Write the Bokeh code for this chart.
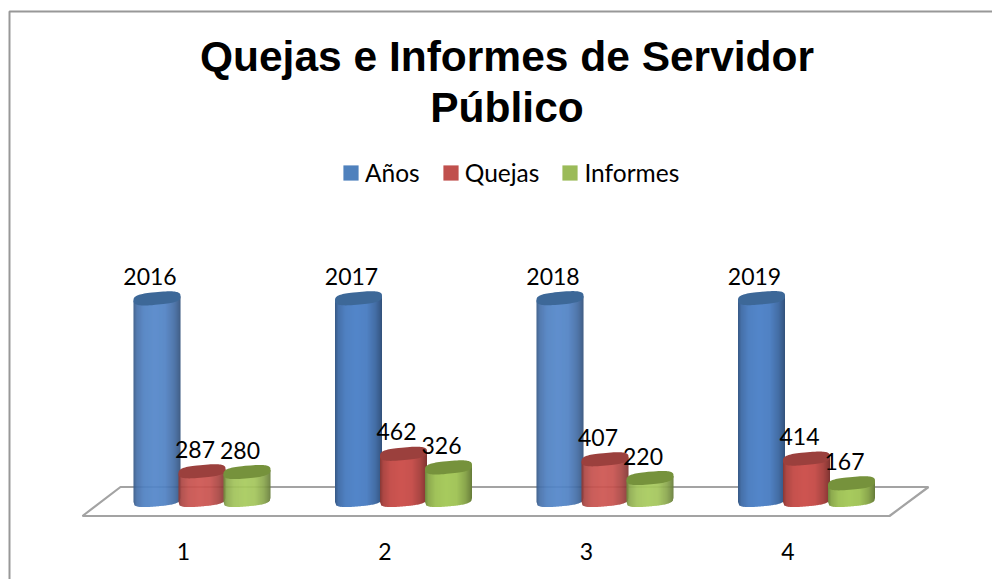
import numpy as np
from bokeh.embed import file_html
from bokeh.models import ColumnDataSource, FixedTicker, Legend, LegendItem, LinearAxis
from bokeh.plotting import figure
from bokeh.resources import INLINE
from bokeh.core.properties import value

groups = [1, 2, 3, 4]
anios = [2016, 2017, 2018, 2019]
quejas = [287, 462, 407, 414]
informes = [280, 326, 220, 167]
series_names = ["Años", "Quejas", "Informes"]
title_lines = ["Quejas e Informes de Servidor", "Público"]

W, H = 992, 579
PAGE = 0
SPACING = 201.5          # px between groups
LABEL_SHIFT = 18.5       # category labels sit left of the group centre (perspective)
ZERO_Y = 499.5           # page px of the value 0
PX_PER_UNIT = 0.1

x0 = (PAGE + LABEL_SHIFT) / SPACING
x1 = (PAGE + W + LABEL_SHIFT) / SPACING
y_bottom = (ZERO_Y - (PAGE + H)) / PX_PER_UNIT
y_top = (ZERO_Y - PAGE) / PX_PER_UNIT


def xp(px):
    return (np.asarray(px, dtype=float) + LABEL_SHIFT) / SPACING


def yp(py):
    return (ZERO_Y - np.asarray(py, dtype=float)) / PX_PER_UNIT


p = figure(width=W, height=H, x_range=(x0, x1), y_range=(y_bottom, y_top),
           x_axis_location=None, y_axis_location=None, toolbar_location=None,
           output_backend="svg", min_border=0, outline_line_color=None)
p.grid.visible = False

# chart border (open at right and bottom, cut by the page)
BORDER = "#989898"
p.line(xp([9, 9, 992]), yp([579, 11, 11]), line_color=BORDER, line_width=2)

# floor of the 3-D chart
p.patch(xp([82, 120, 928, 889]), yp([515.5, 486.5, 486.5, 515.5]),
        fill_color="white", line_color="#a3a3a3", line_width=2.2)

A = 23.5       # cylinder half width px
B = 6.3        # ellipse half height px
SLOPE = 0.09   # ellipse tilt
SHADE_T = [-1.0, -0.86, -0.55, -0.1, 0.35, 0.72, 0.92, 1.0]
SHADE_K = [0.66, 0.84, 0.96, 1.0, 0.97, 0.82, 0.68, 0.6]
BASES = [(83, 134, 202), (206, 85, 81), (168, 203, 94)]
TOPS = ["#3d6898", "#9b403d", "#76923c"]
OFFSETS = [-45, 0, 45]
LEGEND_COLORS = ["#4f81bd", "#c0504d", "#9bbb59"]


def hexcolor(rgb, k):
    return "#%02x%02x%02x" % tuple(int(min(255, c * k)) for c in rgb)


def cylinder(group, val, s):
    cx = SPACING * group + OFFSETS[s]
    dxs = np.arange(-A, A, 1.0)
    xs, ys, cols = [], [], []
    for d in dxs:
        d2 = min(d + 1.35, A)
        dm = [d, d2]
        lows = [-B * max(0.0, 1 - abs(q / A) ** 3) ** (1 / 3) + SLOPE * q for q in dm]
        highs = [val * PX_PER_UNIT + SLOPE * q for q in dm]
        xs.append(list(xp([cx + d, cx + d2, cx + d2, cx + d])))
        ys.append([lows[0] / PX_PER_UNIT, lows[1] / PX_PER_UNIT,
                   highs[1] / PX_PER_UNIT, highs[0] / PX_PER_UNIT])
        k = np.interp((d + 0.5) / A, SHADE_T, SHADE_K)
        cols.append(hexcolor(BASES[s], k))
    p.patches(xs, ys, fill_color=cols, line_color=None)
    th = np.linspace(0, 2 * np.pi, 80)
    c, sn = np.cos(th), np.sin(th)
    ex = A * np.sign(c) * np.abs(c) ** (2 / 3)
    ey = B * np.sign(sn) * np.abs(sn) ** (2 / 3) + SLOPE * ex + val * PX_PER_UNIT
    p.patch(list(xp(cx + ex)), list(ey / PX_PER_UNIT), fill_color=TOPS[s], line_color=None)


for i, g in enumerate(groups):
    for s, series in enumerate([anios, quejas, informes]):
        cylinder(g, series[i], s)

# data labels
lx, ly, lt = [], [], []
for s, series in enumerate([anios, quejas, informes]):
    for g, v in zip(groups, series):
        lx.append(float(xp(SPACING * g + OFFSETS[s])))
        ly.append(v)
        lt.append(str(v))
p.text(x="x", y="y", text="t", source=ColumnDataSource(dict(x=lx, y=ly, t=lt)),
       x_offset=-7, y_offset=-22, text_align="center", text_baseline="middle",
       text_font=value("Lato"), text_font_size="23px", text_color="black")

# category axis pinned inside the frame
axis = LinearAxis(fixed_location=float(yp(536)), ticker=FixedTicker(ticks=groups))
axis.axis_line_color = None
axis.major_tick_line_color = None
axis.minor_tick_line_color = None
axis.major_label_standoff = 0
axis.major_label_text_font = "Lato"
axis.major_label_text_font_size = "23px"
axis.major_label_text_color = "black"
p.add_layout(axis, "below")

# title
p.text(x=[float(xp(506.5))] * 2, y=[float(yp(56)), float(yp(107))], text=title_lines,
       text_align="center", text_baseline="middle",
       text_font=value("Liberation Sans"), text_font_style="bold",
       text_font_size="42.5px", text_color="black")

# legend (its swatch quads lie outside the visible range)
items = []
for name, col in zip(series_names, LEGEND_COLORS):
    r = p.quad(left=[-9], right=[-8], top=[-90000], bottom=[-90001], fill_color=col, line_color=None)
    items.append(LegendItem(label=name, renderers=[r]))
leg = Legend(items=items, orientation="horizontal", location=(341, 392),
             background_fill_alpha=0, border_line_color=None,
             glyph_width=19, glyph_height=19, label_standoff=5, spacing=21,
             padding=0, margin=0,
             label_text_font="Lato", label_text_font_size="24.5px", label_text_color="black")
p.add_layout(leg, "center")

open("out.html", "w").write(file_html(p, INLINE))
